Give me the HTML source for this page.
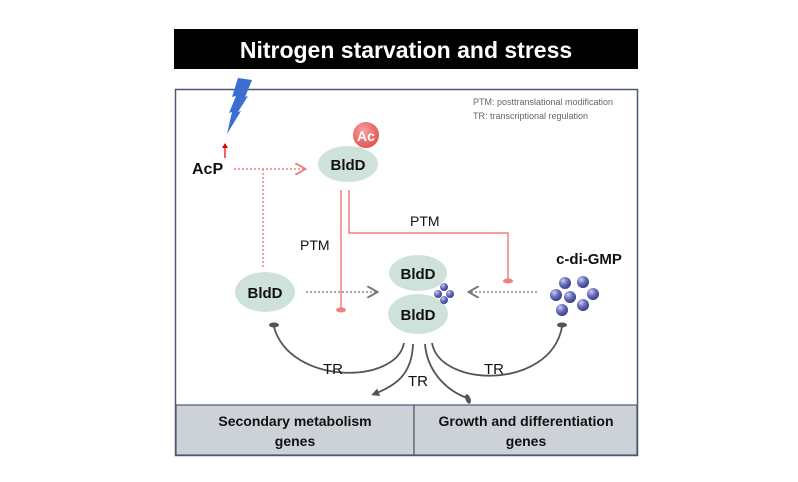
<!DOCTYPE html>
<html><head><meta charset="utf-8"><style>
html,body{margin:0;padding:0;background:#fff;}
svg{display:block;}
text{font-family:"Liberation Sans",sans-serif;}
</style></head><body>
<svg width="798" height="482" viewBox="0 0 798 482" xmlns="http://www.w3.org/2000/svg">
<defs>
<radialGradient id="sp" cx="0.35" cy="0.3" r="0.7">
<stop offset="0" stop-color="#c8cdf2"/><stop offset="0.5" stop-color="#6a70c0"/><stop offset="1" stop-color="#3a3f8a"/>
</radialGradient>
<radialGradient id="ac" cx="0.4" cy="0.35" r="0.7">
<stop offset="0" stop-color="#f7a0a0"/><stop offset="1" stop-color="#e05050"/>
</radialGradient>
<marker id="ag" markerWidth="8" markerHeight="8" refX="6" refY="4" orient="auto"><path d="M0,0 L7,4 L0,8" fill="none" stroke="#777" stroke-width="1.3"/></marker>
<marker id="ar" markerWidth="8" markerHeight="8" refX="6" refY="4" orient="auto"><path d="M0,0 L7,4 L0,8" fill="none" stroke="#f08080" stroke-width="1.3"/></marker>
<marker id="ad" markerUnits="userSpaceOnUse" markerWidth="8" markerHeight="8" refX="5" refY="4" orient="auto"><path d="M0,0 L8,4 L0,8 z" fill="#555"/></marker>
</defs>
<rect x="174" y="29" width="464" height="40" fill="#000"/>
<text x="406" y="58" text-anchor="middle" font-size="23" font-weight="bold" fill="#fff">Nitrogen starvation and stress</text>
<rect x="175.5" y="89.5" width="462" height="366" fill="#fff" stroke="#4a5870" stroke-width="1.5"/>
<rect x="176" y="405" width="238" height="50" fill="#ccd2d8" stroke="#4a5870" stroke-width="1.2"/>
<rect x="414" y="405" width="223" height="50" fill="#ccd2d8" stroke="#4a5870" stroke-width="1.2"/>
<text x="295" y="426" text-anchor="middle" font-size="14" font-weight="bold" fill="#111">Secondary metabolism</text>
<text x="295" y="446" text-anchor="middle" font-size="14" font-weight="bold" fill="#111">genes</text>
<text x="526" y="426" text-anchor="middle" font-size="14" font-weight="bold" fill="#111">Growth and differentiation</text>
<text x="526" y="446" text-anchor="middle" font-size="14" font-weight="bold" fill="#111">genes</text>
<text x="473" y="105" font-size="9" fill="#666">PTM: posttranslational modification</text>
<text x="473" y="119" font-size="9" fill="#666">TR: transcriptional regulation</text>
<polygon points="238,78 252,80 245,97 248,96 238,112 241,111 227,134 232,112 229,113 236,96 232,97" fill="#3a6fd0"/>
<line x1="225" y1="158" x2="225" y2="147" stroke="#d00" stroke-width="1.2"/><polygon points="222,148 228,148 225,143" fill="#d00"/>
<text x="192" y="174" font-size="16" font-weight="bold" fill="#111">AcP</text>
<line x1="234" y1="169" x2="304" y2="169" stroke="#f08080" stroke-width="1.5" stroke-dasharray="2,2" marker-end="url(#ar)"/>
<line x1="263" y1="169" x2="263" y2="268" stroke="#f08080" stroke-width="1.5" stroke-dasharray="2,2"/>
<ellipse cx="348" cy="164" rx="30" ry="18" fill="#cfe2da"/>
<text x="348" y="170" text-anchor="middle" font-size="15" font-weight="bold" fill="#111">BldD</text>
<circle cx="366" cy="135" r="13" fill="url(#ac)"/>
<text x="366" y="141" text-anchor="middle" font-size="14" font-weight="bold" fill="#fff">Ac</text>
<polyline points="341,190 341,309" fill="none" stroke="#f08080" stroke-width="1.5"/>
<ellipse cx="341" cy="310" rx="5" ry="2.5" fill="#f08080"/>
<polyline points="349,190 349,233 508,233 508,280" fill="none" stroke="#f08080" stroke-width="1.5"/>
<ellipse cx="508" cy="281" rx="5" ry="2.5" fill="#f08080"/>
<text x="300" y="250" font-size="14" fill="#111">PTM</text>
<text x="410" y="226" font-size="14" fill="#111">PTM</text>
<ellipse cx="265" cy="292" rx="30" ry="20" fill="#cfe2da"/>
<text x="265" y="298" text-anchor="middle" font-size="15" font-weight="bold" fill="#111">BldD</text>
<line x1="306" y1="292" x2="376" y2="292" stroke="#888" stroke-width="1.5" stroke-dasharray="2,2" marker-end="url(#ag)"/>
<line x1="537" y1="292" x2="470" y2="292" stroke="#888" stroke-width="1.5" stroke-dasharray="2,2" marker-end="url(#ag)"/>
<ellipse cx="418" cy="273" rx="29" ry="18" fill="#cfe2da"/>
<text x="418" y="279" text-anchor="middle" font-size="15" font-weight="bold" fill="#111">BldD</text>
<ellipse cx="418" cy="314" rx="30" ry="20" fill="#cfe2da"/>
<text x="418" y="320" text-anchor="middle" font-size="15" font-weight="bold" fill="#111">BldD</text>
<circle cx="444" cy="287" r="4" fill="url(#sp)"/><circle cx="438" cy="294" r="4" fill="url(#sp)"/><circle cx="450" cy="294" r="4" fill="url(#sp)"/><circle cx="444" cy="300" r="4" fill="url(#sp)"/>
<text x="589" y="264" text-anchor="middle" font-size="15" font-weight="bold" fill="#111">c-di-GMP</text>
<circle cx="565" cy="283" r="6" fill="url(#sp)"/><circle cx="583" cy="282" r="6" fill="url(#sp)"/>
<circle cx="556" cy="295" r="6" fill="url(#sp)"/><circle cx="570" cy="297" r="6" fill="url(#sp)"/><circle cx="593" cy="294" r="6" fill="url(#sp)"/>
<circle cx="562" cy="310" r="6" fill="url(#sp)"/><circle cx="583" cy="305" r="6" fill="url(#sp)"/>
<path d="M404,343 C396,385 290,385 274,327" fill="none" stroke="#555" stroke-width="1.8"/>
<ellipse cx="274" cy="325" rx="5" ry="2.5" fill="#555"/>
<path d="M413,344 C412,375 395,386 374,394" fill="none" stroke="#555" stroke-width="1.8" marker-end="url(#ad)"/>
<path d="M425,344 C427,370 445,390 467,398" fill="none" stroke="#555" stroke-width="1.8"/>
<ellipse cx="468" cy="399" rx="2.5" ry="5" fill="#555" transform="rotate(-20 468 399)"/>
<path d="M432,343 C440,388 550,390 562,327" fill="none" stroke="#555" stroke-width="1.8"/>
<ellipse cx="562" cy="325" rx="5" ry="2.5" fill="#555"/>
<text x="323" y="374" font-size="15" fill="#111">TR</text>
<text x="408" y="386" font-size="15" fill="#111">TR</text>
<text x="484" y="374" font-size="15" fill="#111">TR</text>
</svg>
</body></html>
